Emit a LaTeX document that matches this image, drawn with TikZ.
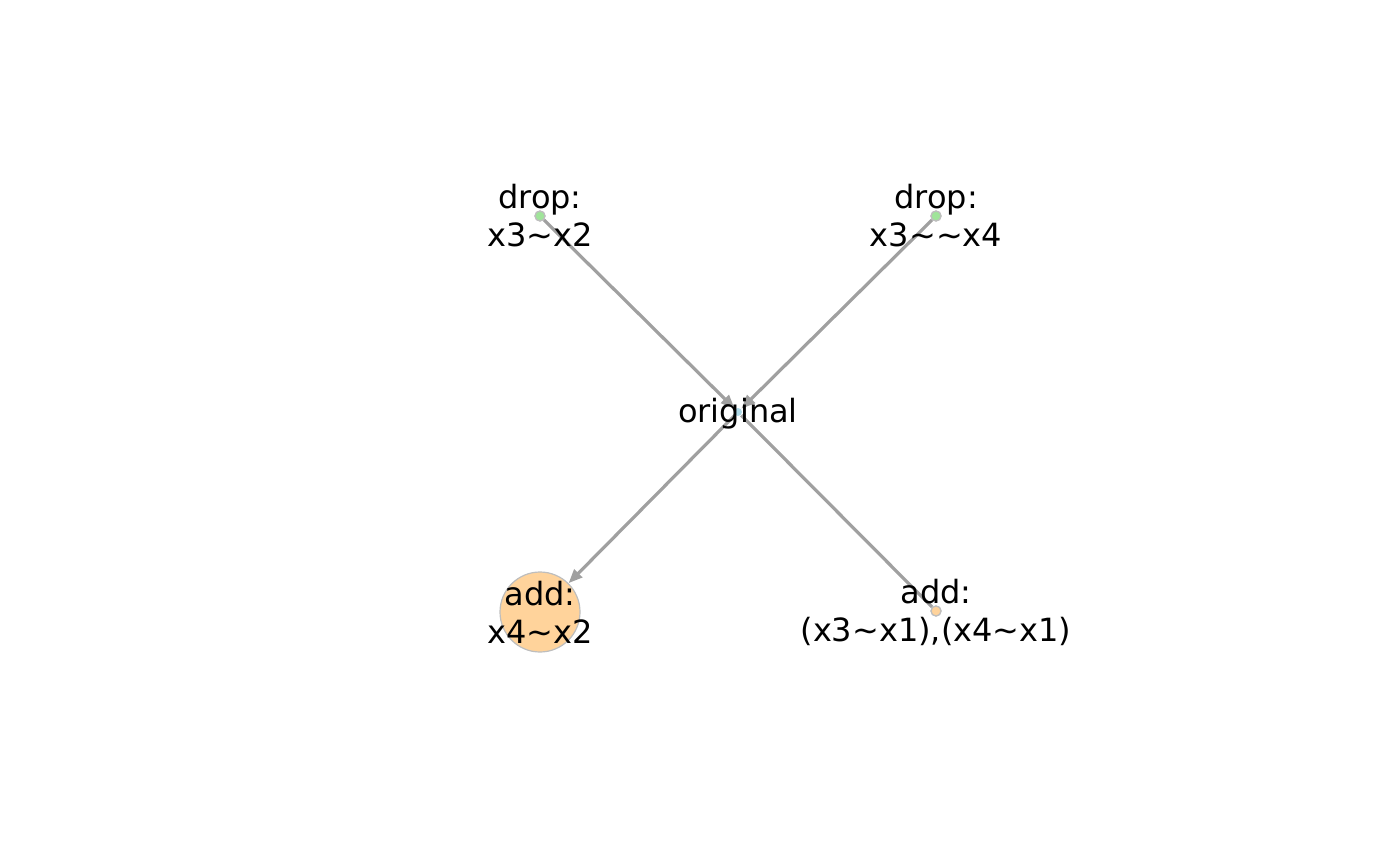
\documentclass[tikz,border=0pt]{standalone}
\usepackage{fontspec}
\setmainfont{DejaVu Sans}
\usetikzlibrary{arrows.meta}
\definecolor{edgegray}{HTML}{A0A0A0}
\definecolor{dropgreen}{HTML}{A0E49A}
\definecolor{addorange}{HTML}{FFD39B}
\definecolor{origblue}{HTML}{ADD8E6}
\definecolor{rimgray}{HTML}{BEBEBE}
\tikzset{
  vert/.style={circle, draw=rimgray, line width=0.6pt, inner sep=0pt},
  lbl/.style={align=center, font=\fontsize{16}{19}\selectfont, inner sep=0pt},
  edge/.style={draw=edgegray, line width=1.6pt},
  arr/.style={edge, -{Stealth[length=7pt, width=5.5pt, inset=0pt]}}
}
\begin{document}
\begin{tikzpicture}[x=0.5pt, y=-0.5pt]
\useasboundingbox (0,0) rectangle (1400,866);
% vertices (shapes)
\node[vert, fill=dropgreen, minimum size=5pt] (d1) at (540,216) {};
\node[vert, fill=dropgreen, minimum size=5pt] (d2) at (936,216) {};
\node[vert, fill=origblue, draw=none, minimum size=4pt] (o) at (738,412) {};
\node[vert, fill=addorange, minimum size=5pt] (a2) at (936,611) {};
\node[vert, fill=addorange, minimum size=40pt] (a1) at (540,612) {};
% edges
\draw[arr] (d1) -- (o);
\draw[arr] (d2) -- (o);
\draw[arr] (o) -- (a1);
\draw[edge] (o) -- (a2);
% redraw small vertices above edges
\node[vert, fill=dropgreen, minimum size=5pt] at (540,216) {};
\node[vert, fill=dropgreen, minimum size=5pt] at (936,216) {};
\node[vert, fill=addorange, minimum size=5pt] at (936,611) {};
% labels
\node[lbl] (l1) at (540,216) {drop:\\x3\textasciitilde x2};
\node[lbl] (l2) at (936,216) {drop:\\x3\textasciitilde\textasciitilde x4};
\node[lbl] (l3) at (738,414) {original};
\node[lbl] (l4) at (540,612) {add:\\x4\textasciitilde x2};
\node[lbl] (l5) at (936,612) {add:\\(x3\textasciitilde x1),(x4\textasciitilde x1)};
\end{tikzpicture}
\end{document}
